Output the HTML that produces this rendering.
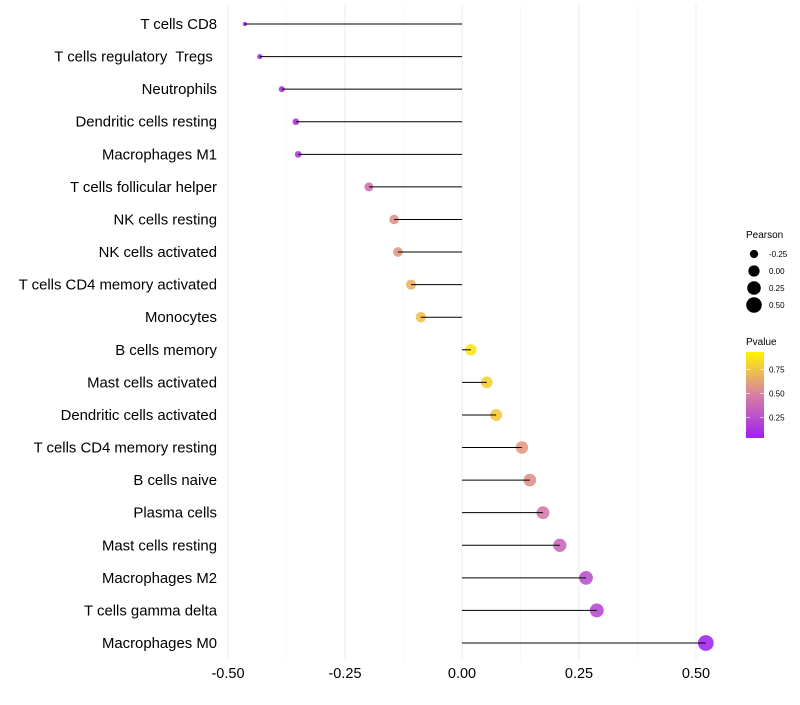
<!DOCTYPE html>
<html><head><meta charset="utf-8"><style>
body{margin:0;background:#fff;font-family:"Liberation Sans",sans-serif;}
svg text{font-family:"Liberation Sans",sans-serif;white-space:pre;}
</style></head><body>
<svg id="chart" width="800" height="700">
<defs><linearGradient id="pg" x1="0" y1="1" x2="0" y2="0">
<stop offset="0" stop-color="#A020F0"/><stop offset="0.5" stop-color="#D77FA5"/><stop offset="1" stop-color="#FFF500"/></linearGradient></defs>
<g id="grid"></g>
<g id="marks"></g>
<g id="yaxis"></g>
<g id="xaxis"></g>
<g>
<text x="746" y="238" font-size="10" fill="#000">Pearson</text>
<g id="sizeleg"></g>
</g>
<g>
<text x="746" y="345" font-size="10" fill="#000">Pvalue</text>
<rect x="746" y="352" width="18" height="86" fill="url(#pg)"/>
<g id="cbticks"></g>
</g>
</svg>
<script>
const categories=["T cells CD8","T cells regulatory  Tregs ","Neutrophils","Dendritic cells resting","Macrophages M1","T cells follicular helper","NK cells resting","NK cells activated","T cells CD4 memory activated","Monocytes","B cells memory","Mast cells activated","Dendritic cells activated","T cells CD4 memory resting","B cells naive","Plasma cells","Mast cells resting","Macrophages M2","T cells gamma delta","Macrophages M0"];
const pearson=[-0.464,-0.432,-0.385,-0.355,-0.350,-0.199,-0.145,-0.137,-0.109,-0.088,0.019,0.053,0.073,0.128,0.145,0.173,0.209,0.265,0.288,0.521];
const pvalue=[0.01,0.03,0.08,0.1,0.12,0.42,0.58,0.62,0.72,0.78,0.95,0.86,0.82,0.62,0.58,0.46,0.36,0.24,0.2,0.01];
const xTicks=[-0.5,-0.25,0,0.25,0.5];
const xTickLabels=["-0.50","-0.25","0.00","0.25","0.50"];
const sizeLegend=[-0.25,0,0.25,0.5];
const sizeLegendLabels=["-0.25","0.00","0.25","0.50"];
const cbTicks=[0.25,0.5,0.75];
const cbTickLabels=["0.25","0.50","0.75"];

const NS="http://www.w3.org/2000/svg";
const x=v=>462+v*468;
const y=i=>24+i*(643-24)/19;
const r=v=>Math.sqrt(Math.max(1,5+58*(v+0.46)));
const cb=p=>438-(p-0.035)*(86/0.9);
function lerp(a,b,t){return a.map((c,i)=>Math.round(c+(b[i]-c)*t));}
function col(p){const P=[160,32,240],M=[215,127,165],Y=[255,240,0];const c=p<0.5?lerp(P,M,p/0.5):lerp(M,Y,(p-0.5)/0.5);return `rgb(${c})`;}
function mk(tag,attrs,parent){const e=document.createElementNS(NS,tag);for(const k in attrs)e.setAttribute(k,attrs[k]);parent.appendChild(e);return e;}
const grid=document.getElementById('grid'),marks=document.getElementById('marks'),ya=document.getElementById('yaxis'),xa=document.getElementById('xaxis');
for(let k=0;k<xTicks.length;k++){
 const l=mk('line',{x1:x(xTicks[k]),x2:x(xTicks[k]),y1:5,y2:660,stroke:'#ebebeb','stroke-width':1},grid);
 
 
 if(k<xTicks.length-1){const m=(xTicks[k]+xTicks[k+1])/2;
 const l2=mk('line',{x1:x(m),x2:x(m),y1:5,y2:660,stroke:'#f4f4f4','stroke-width':0.7},grid);
 
 }
 const t=mk('text',{x:x(xTicks[k]),y:678,'font-size':14.5,'text-anchor':'middle',fill:'#000'},xa);
 t.textContent=xTickLabels[k];
 
 
}
categories.forEach((c,i)=>{
 const t=mk('text',{x:217,y:y(i)+5,'font-size':14.9,'text-anchor':'end',fill:'#000'},ya);
 t.textContent=c;
 
 
 const p=mk('circle',{cx:x(pearson[i]),cy:y(i),r:r(pearson[i]),fill:col(pvalue[i]),'fill-opacity':0.88},marks);
 
 
 const l=mk('line',{x1:x(0),x2:x(pearson[i]),y1:y(i),y2:y(i),stroke:'#000','stroke-width':1},marks);
 
 
});
const sl=document.getElementById('sizeleg');
sizeLegend.forEach((v,k)=>{
 const cy=254+k*17;
 const c=mk('circle',{cx:754,cy:cy,r:r(v),fill:'#000'},sl);
 
 
 const t=mk('text',{x:769,y:cy+3,'font-size':8,fill:'#000'},sl);
 t.textContent=sizeLegendLabels[k];
 
 
});
const cbt=document.getElementById('cbticks');
cbTicks.forEach((v,k)=>{
 const yy=cb(v);
 mk('line',{x1:746,x2:750,y1:yy,y2:yy,stroke:'#fff','stroke-width':0.6},cbt);
 mk('line',{x1:760,x2:764,y1:yy,y2:yy,stroke:'#fff','stroke-width':0.6},cbt);
 const t=mk('text',{x:769,y:yy+3,'font-size':8,fill:'#000'},cbt);
 t.textContent=cbTickLabels[k];
 
 
});
</script>
</body></html>
